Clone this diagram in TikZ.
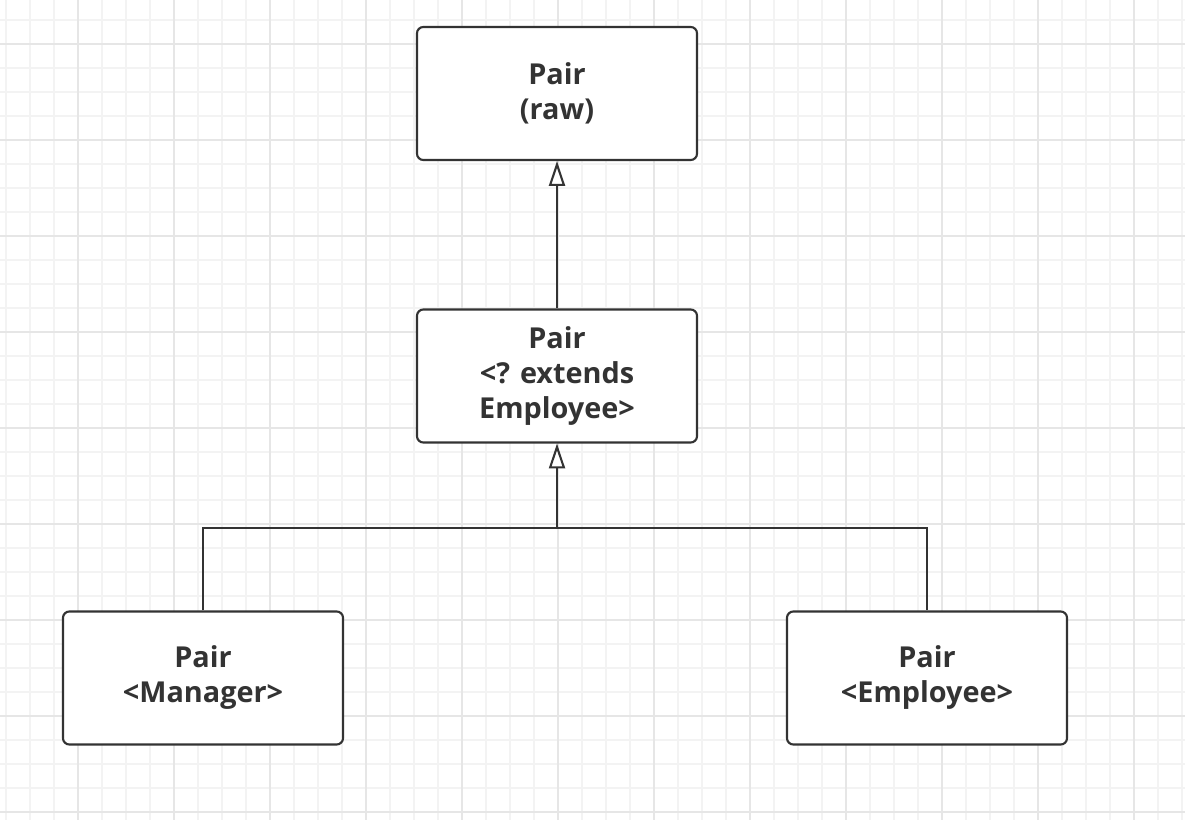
\documentclass[tikz,border=0pt]{standalone}
\usepackage{fontspec}
\setmainfont{Open Sans}
\usetikzlibrary{arrows.meta}
\definecolor{inkgray}{HTML}{333333}
\definecolor{gridminor}{HTML}{F3F3F3}
\definecolor{gridmajor}{HTML}{E6E6E6}
\tikzset{
  classbox/.style={draw=inkgray, line width=1.5pt, rounded corners=0.16cm, fill=white,
    minimum width=7cm, minimum height=3.325cm, align=center, text=inkgray,
    font=\fontsize{20.5}{24.9}\selectfont\bfseries},
  linkline/.style={draw=inkgray, line width=1.5pt},
  inherit/.style={linkline, -{Triangle[length=0.62cm, width=0.4cm, fill=white, line width=1.5pt]}}
}
\begin{document}
\begin{tikzpicture}[x=0.025cm, y=-0.025cm]
    % Fondo y cuadricula
    \fill[white] (0,0) rectangle (1185,820);
    \useasboundingbox (0,0) rectangle (1185,820);
    \foreach \gx in {6,30,...,1182} \draw[gridminor, line width=1pt] (\gx,0) -- (\gx,820);
    \foreach \gy in {20,44,...,812} \draw[gridminor, line width=1pt] (0,\gy) -- (1185,\gy);
    \foreach \gx in {78,174,...,1134} \draw[gridmajor, line width=1pt] (\gx,0) -- (\gx,820);
    \foreach \gy in {44,140,...,812} \draw[gridmajor, line width=1pt] (0,\gy) -- (1185,\gy);

    % Cajas de las clases
    \node[classbox] (raw) at (557,93.5) {Pair\\(raw)};
    \node[classbox] (wild) at (557,376) {Pair\\<? extends\\Employee>};
    \node[classbox] (manager) at (203,678) {Pair\\<Manager>};
    \node[classbox] (employee) at (927,678) {Pair\\<Employee>};

    % Herencia
    \draw[inherit] (wild) -- (raw);
    \coordinate (join) at (557,528);
    \draw[linkline] (manager.north) |- (join) -| (employee.north);
    \draw[inherit] (join) -- (wild);
\end{tikzpicture}
\end{document}
